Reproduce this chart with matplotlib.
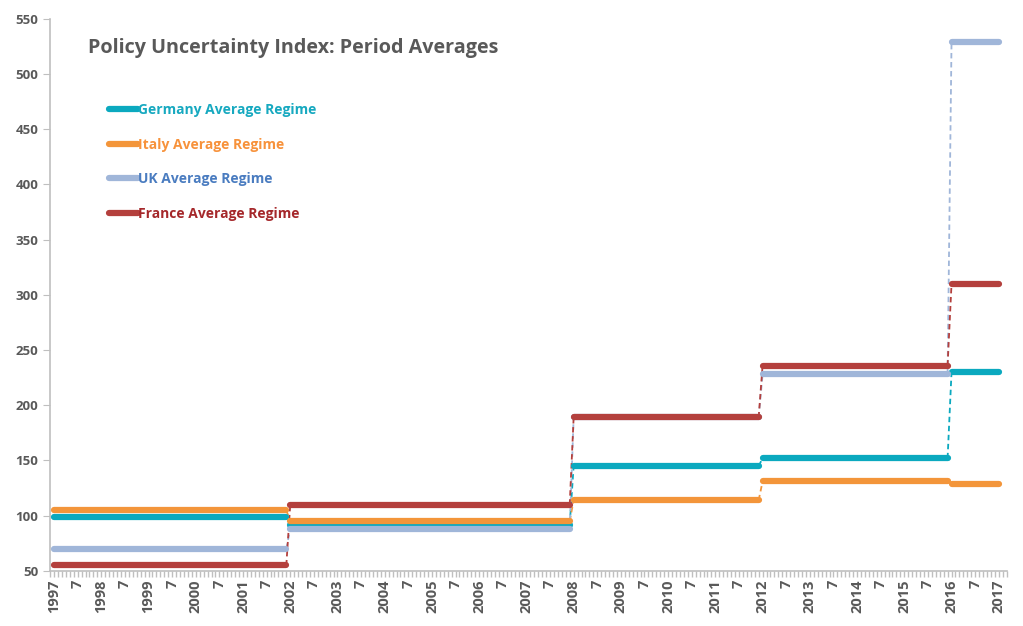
import matplotlib
matplotlib.use("Agg")
import matplotlib.pyplot as plt
from matplotlib.ticker import FixedLocator, MultipleLocator

plt.rcParams['font.family'] = ['Open Sans', 'DejaVu Sans']

# Regime periods (month index from Jan 1997) and the average per regime
regime_starts = [0, 60, 132, 180, 228]   # 1997-01, 2002-01, 2008-01, 2012-01, 2016-01
last_month = 240                          # 2017-01
germany = [99, 92, 145, 152, 230]
italy = [105, 95, 114, 131, 129]
uk = [70, 88, 189, 228, 529]
france = [55, 110, 189, 236, 310]

series = [
    ("Germany Average Regime", germany, "#0BA9BF", "#17A9C0"),
    ("Italy Average Regime", italy, "#F3953A", "#F7923B"),
    ("UK Average Regime", uk, "#A0B6D9", "#4A7CC0"),
    ("France Average Regime", france, "#B4403D", "#A5282B"),
]

years = list(range(1997, 2018))
grey = "#595959"

fig = plt.figure(figsize=(10.23, 6.26), dpi=100)
ax = fig.add_axes([0.049, 0.088, 0.935, 0.882])

ends = [s - 1 for s in regime_starts[1:]] + [last_month]
handles = []
for name, vals, col, _ in series:
    for i, v in enumerate(vals):
        ln, = ax.plot([regime_starts[i], ends[i]], [v, v], color=col, lw=4.5,
                      solid_capstyle='round', zorder=3)
        if i + 1 < len(vals):
            ax.plot([ends[i], regime_starts[i + 1]], [v, vals[i + 1]], color=col,
                    lw=1.3, ls=(0, (3, 2)), zorder=2)
    handles.append(ln)

ax.set_xlim(-1, 242)
ax.set_ylim(50, 550)
ax.yaxis.set_major_locator(MultipleLocator(50))

major = list(range(0, last_month + 1, 6))
labels = [str(years[m // 12]) if m % 12 == 0 else "7" for m in major]
ax.xaxis.set_major_locator(FixedLocator(major))
ax.xaxis.set_minor_locator(MultipleLocator(1))
ax.set_xticklabels(labels, rotation=90, fontsize=10.5, fontweight='bold', color=grey)
ax.tick_params(axis='x', which='both', length=4, color="#BFBFBF", width=1, pad=2)
ax.tick_params(axis='y', length=5, color="#BFBFBF", labelsize=9.5, labelcolor=grey)
for t in ax.get_yticklabels():
    t.set_fontweight('bold')

for s in ['top', 'right']:
    ax.spines[s].set_visible(False)
for s in ['left', 'bottom']:
    ax.spines[s].set_color("#BFBFBF")
    ax.spines[s].set_linewidth(1.2)

ax.text(0.04, 0.947, "Policy Uncertainty Index: Period Averages", transform=ax.transAxes,
        fontsize=14.2, fontweight='bold', color=grey, va='center')

leg = ax.legend(handles, [s[0] for s in series], loc='upper left',
                bbox_to_anchor=(0.048, 0.87), frameon=False, handlelength=2.1,
                handletextpad=0.05, labelspacing=1.48,
                labelcolor=[s[3] for s in series], prop={'weight': 'bold', 'size': 10})

fig.savefig("out.png", dpi=100)
